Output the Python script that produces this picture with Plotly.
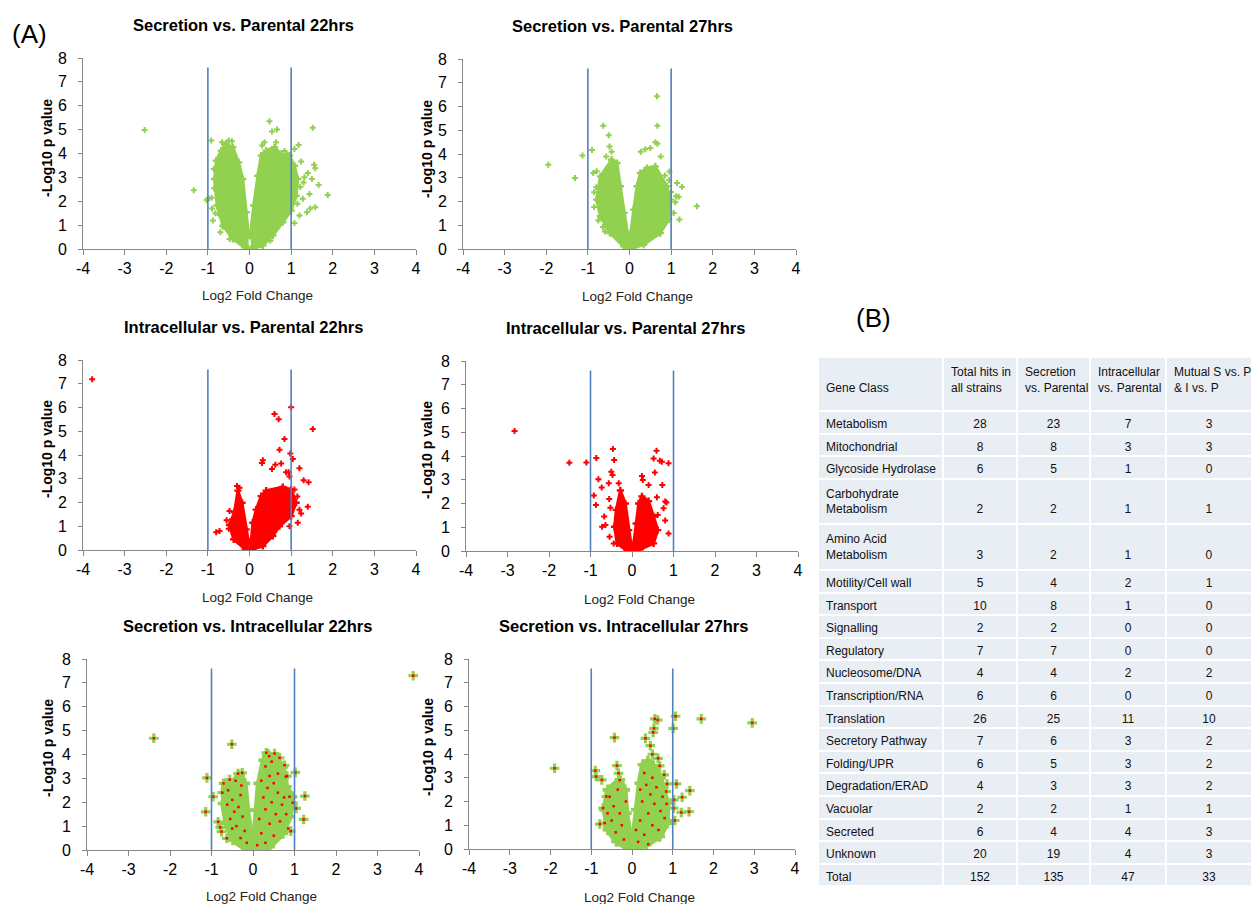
import plotly.graph_objects as go

W, H = 1252, 904
GREEN = "#92D050"
RED = "#FF0000"
BLUE = "#4F81BD"
AXIS = "#868686"
FONT = "Liberation Sans, Arial, Helvetica, sans-serif"

# ---------------- data ----------------
x_ticks = [-4, -3, -2, -1, 0, 1, 2, 3, 4]
x_tick_labels = ["-4", "-3", "-2", "-1", "0", "1", "2", "3", "4"]
y_ticks = [0, 1, 2, 3, 4, 5, 6, 7, 8]
threshold_x = [-1, 1]
threshold_top = 7.6

panel_titles = ["Secretion vs. Parental 22hrs", "Secretion vs. Parental 27hrs",
                "Intracellular vs. Parental 22hrs", "Intracellular vs. Parental 27hrs",
                "Secretion vs. Intracellular 22hrs", "Secretion vs. Intracellular 27hrs"]

# Panel 1: Secretion vs. Parental 22hrs
sp22_left_x = [-0.02, -0.12, -0.4, -0.64, -0.78, -0.84, -0.8, -0.68, -0.56, -0.4, -0.26, -0.16, -0.08, -0.02]
sp22_left_y = [0.0, 0.07, 0.42, 0.98, 1.82, 2.93, 3.7, 4.12, 4.4, 4.26, 3.63, 2.93, 1.54, 0.56]
sp22_right_x = [0.02, 0.1, 0.2, 0.28, 0.4, 0.6, 0.76, 0.96, 1.08, 1.16, 1.12, 1.0, 0.8, 0.56, 0.32, 0.04]
sp22_right_y = [0.56, 1.82, 3.07, 3.91, 4.12, 4.26, 3.98, 3.91, 3.49, 2.93, 2.23, 1.61, 1.12, 0.56, 0.14, 0.0]
sp22_pts_x = [-2.52, -1.34, -1.03, -0.92, -0.66, -0.5, -0.42, 0.48, 0.54, 0.66, 1.52, 1.88, 1.66, 1.55, 1.58,
              1.4, 1.5, 1.3, 1.44, 1.58, 1.46, 1.38, 1.2, 1.08, 1.24, 1.08, 1.18, 0.96, 0.36, 0.3, 0.64, 0.5,
              -0.88, -0.98, -0.91, -0.85, -0.78, -0.86, -0.74, -0.64, -0.48, -0.4, -0.72,
              1.22, 1.28, 1.15, 1.32, 0.9, 0.84, -0.6, -0.7, -0.82, -0.9]
sp22_pts_y = [4.98, 2.46, 2.05, 4.54, 4.47, 4.54, 4.51, 5.35, 4.92, 5.0, 5.08, 2.26, 2.68, 3.53, 3.38,
              3.18, 2.93, 2.79, 2.3, 1.75, 1.7, 1.54, 1.4, 1.09, 3.66, 4.19, 4.36, 3.94, 4.47, 4.33, 4.47, 0.35,
              1.19, 2.12, 2.15, 2.54, 3.04, 3.35, 3.72, 0.94, 0.42, 0.56, 1.42,
              2.6, 2.1, 1.9, 3.0, 3.95, 4.1, 4.35, 0.7, 1.5, 1.7]

# Panel 2: Secretion vs. Parental 27hrs
sp27_left_x = [0.0, -0.14, -0.47, -0.7, -0.79, -0.7, -0.43, -0.3, -0.22, -0.13, -0.05, 0.0]
sp27_left_y = [0.0, 0.11, 0.67, 1.38, 2.08, 3.06, 3.76, 3.62, 2.64, 1.52, 0.67, 0.2]
sp27_right_x = [0.01, 0.03, 0.1, 0.18, 0.26, 0.42, 0.62, 0.9, 0.98, 0.94, 0.74, 0.34, 0.02]
sp27_right_y = [0.2, 0.67, 1.66, 2.64, 3.2, 3.41, 3.48, 2.64, 2.08, 1.24, 0.67, 0.18, 0.0]
sp27_pts_x = [-1.95, -1.31, -1.13, -0.9, -0.63, -0.5, -0.48, -0.43, -0.56, 0.66, 0.67, 0.62, 0.67, 0.5, 0.38,
              0.27, 0.75, 0.96, 1.14, 1.26, 1.12, 1.62, 1.2, 1.06, 1.1, 1.18, -0.87, -0.79, -0.64, -0.59,
              -0.85, -0.85, 0.67, -0.8, -0.75, 0.95, 1.0, 0.85]
sp27_pts_y = [3.55, 2.99, 3.94, 4.17, 5.19, 4.79, 4.32, 4.1, 3.9, 6.43, 5.19, 4.49, 4.43, 4.25, 4.2,
              4.1, 3.9, 3.26, 2.78, 2.61, 2.22, 1.8, 1.24, 1.52, 1.97, 2.2, 3.2, 3.27, 0.93, 0.74,
              2.39, 1.77, 0.67, 2.6, 1.2, 2.9, 2.4, 3.1]

# Panel 3: Intracellular vs. Parental 22hrs
ip22_left_x = [-0.02, -0.1, -0.38, -0.48, -0.36, -0.28, -0.18, -0.08, -0.02]
ip22_left_y = [0.0, 0.03, 0.45, 1.05, 1.6, 2.5, 1.99, 0.87, 0.31]
ip22_right_x = [0.02, 0.04, 0.08, 0.16, 0.28, 0.4, 0.8, 1.0, 1.12, 1.0, 0.72, 0.56, 0.32, 0.04]
ip22_right_y = [0.0, 0.45, 1.15, 1.7, 2.27, 2.5, 2.65, 2.55, 1.99, 1.43, 1.0, 0.59, 0.17, 0.0]
ip22_pts_x = [-3.78, 1.0, 0.6, 0.7, 1.52, 0.84, 0.72, 0.98, 1.04, 0.32, 0.3, 1.2, 1.3, 1.42, 1.4, 1.24,
              1.16, 0.96, 0.54, 0.62, 0.76, 0.88, 0.94, -0.3, -0.24, -0.48, -0.8, -0.72, 0.96,
              -0.55, -0.5, -0.42, 1.15, 1.2, 1.08]
ip22_pts_y = [7.19, 6.01, 5.73, 5.51, 5.09, 4.67, 4.22, 4.06, 3.83, 3.78, 3.66, 3.44, 2.94, 2.85, 1.82, 1.54,
              1.15, 1.0, 3.41, 3.59, 3.64, 3.27, 3.27, 2.69, 2.62, 1.64, 0.75, 0.8, 3.1,
              1.25, 0.9, 1.3, 2.25, 1.7, 2.55]

# Panel 4: Intracellular vs. Parental 27hrs
ip27_left_x = [-0.02, -0.12, -0.36, -0.42, -0.38, -0.28, -0.16, -0.08, -0.02]
ip27_left_y = [0.0, 0.01, 0.32, 1.02, 1.73, 2.55, 2.0, 0.88, 0.25]
ip27_right_x = [0.02, 0.04, 0.1, 0.16, 0.24, 0.4, 0.52, 0.62, 0.52, 0.2, 0.02]
ip27_right_y = [0.0, 0.32, 1.16, 2.0, 2.3, 2.1, 1.45, 0.88, 0.32, 0.07, 0.0]
ip27_pts_x = [-2.83, -1.51, -1.1, -0.86, -0.46, -0.43, -0.81, -0.73, -0.92, -0.87, -0.5, -0.47, -0.56,
              -0.55, -0.52, -0.67, -0.72, -0.64, -0.54, -0.44, -0.32, 0.59, 0.52, 0.88, 0.72, 0.67, 0.55,
              0.24, 0.26, 0.4, 0.73, 0.6, 0.8, 0.83, 0.76, 0.62, 0.8, 0.88, 0.52]
ip27_pts_y = [5.05, 3.72, 3.73, 3.92, 4.29, 3.83, 3.02, 2.67, 2.34, 1.94, 3.34, 3.2, 2.85,
              2.19, 1.82, 1.45, 1.02, 1.09, 0.6, 0.32, 2.85, 4.22, 3.9, 3.69, 3.76, 3.8, 3.31,
              3.16, 2.99, 2.78, 2.78, 2.26, 2.08, 2.04, 1.8, 1.52, 1.28, 0.74, 1.16]

# Panel 5: Secretion vs. Intracellular 22hrs
si22_left_x = [-0.02, -0.16, -0.48, -0.64, -0.72, -0.64, -0.32, -0.2, -0.14, -0.06, -0.02]
si22_left_y = [0.0, 0.03, 0.42, 1.11, 1.95, 2.65, 3.1, 2.79, 1.67, 0.56, 0.2]
si22_right_x = [0.02, 0.04, 0.08, 0.14, 0.26, 0.36, 0.56, 0.72, 0.8, 0.94, 0.88, 0.72, 0.4, 0.04]
si22_right_y = [0.2, 0.56, 1.67, 2.79, 3.76, 4.0, 3.85, 3.48, 2.65, 2.23, 1.39, 0.7, 0.14, 0.0]
si22_pts_x = [3.86, -2.39, -0.51, -1.11, -0.96, -1.14, -0.84, -0.79, -0.63, -0.76, 1.02, 1.25, 1.04, 1.22,
              0.91, 0.32, 0.52, 0.64, 0.76, 0.39, 0.79, 0.82, 0.88, 0.96, -0.36, -0.26, -0.56, -0.71, -0.74]
si22_pts_y = [7.3, 4.68, 4.43, 3.02, 2.23, 1.6, 1.18, 0.95, 0.49, 0.77, 3.25, 2.26, 1.74, 1.28,
              0.79, 4.07, 4.04, 3.86, 3.55, 3.93, 3.07, 3.1, 2.23, 1.98, 3.2, 3.23, 2.95, 2.79, 2.4]
si22_red_x = [-0.6, -0.5, -0.45, -0.55, -0.4, -0.3, -0.35, -0.25, -0.2, -0.5, -0.3, -0.15, -0.62, -0.28,
              -0.42, 0.3, 0.4, 0.35, 0.5, 0.6, 0.45, 0.7, 0.55, 0.3, 0.25, 0.65, 0.4, 0.2, 0.5, 0.8, 0.75,
              0.15, 0.3, 0.1, 0.85, 0.6, 0.45, 0.2]
si22_red_y = [2.5, 2.1, 1.6, 1.3, 1.0, 2.3, 1.8, 1.4, 0.8, 0.9, 0.5, 0.3, 1.9, 2.7,
              2.9, 3.5, 3.1, 2.6, 2.8, 2.4, 2.0, 1.9, 1.5, 1.7, 2.2, 1.2, 1.1, 0.7, 0.6, 1.5, 2.2,
              1.3, 0.3, 0.2, 0.9, 3.2, 3.7, 2.9]

# Panel 6: Secretion vs. Intracellular 27hrs
si27_left_x = [-0.02, -0.1, -0.38, -0.59, -0.67, -0.59, -0.3, -0.18, -0.14, -0.06, -0.02]
si27_left_y = [0.0, 0.04, 0.32, 0.81, 1.65, 2.49, 2.91, 2.49, 1.51, 0.53, 0.2]
si27_right_x = [0.02, 0.05, 0.11, 0.19, 0.27, 0.39, 0.52, 0.68, 0.86, 0.86, 0.68, 0.35, 0.04]
si27_right_y = [0.2, 0.67, 1.65, 2.77, 3.55, 3.7, 3.5, 3.05, 1.93, 1.09, 0.53, 0.18, 0.0]
si27_pts_x = [-1.9, -0.43, -0.9, -0.88, -0.74, -0.37, -0.33, -0.79, -0.67, -0.71, -0.63, 0.56, 0.63, 0.54,
              0.52, 1.07, 1.01, 1.7, 2.95, 0.33, 0.45, 0.5, 0.64, 0.68, 0.79, 1.09, 0.86, 1.42, 1.23, 1.03,
              1.21, 1.4, 1.05, 0.84, 1.02]
si27_pts_y = [3.4, 4.69, 3.3, 3.05, 2.91, 3.51, 3.19, 1.05, 1.09, 1.72, 2.21, 5.48, 5.43, 5.08,
              4.91, 5.59, 5.08, 5.48, 5.31, 4.66, 4.35, 3.99, 3.82, 3.5, 3.12, 2.74, 2.74, 2.46, 2.18, 2.07,
              1.54, 1.57, 1.2, 2.42, 1.72]
si27_red_x = [-0.55, -0.45, -0.5, -0.35, -0.3, -0.25, -0.4, -0.2, -0.6, -0.15, -0.3, 0.3, 0.35, 0.45,
              0.25, 0.55, 0.6, 0.4, 0.7, 0.2, 0.5, 0.65, 0.3, 0.15, 0.8, 0.75, 0.2, 0.5, 0.1, 0.4, 0.85]
si27_red_y = [2.2, 1.8, 1.2, 2.5, 1.5, 1.0, 0.7, 0.4, 1.5, 2.0, 2.9, 3.2, 2.7, 2.3,
              2.0, 1.9, 2.6, 1.5, 1.6, 1.2, 1.0, 0.8, 0.6, 0.3, 1.3, 2.2, 2.5, 3.0, 0.8, 0.2, 1.9]

# Table (B)
table_header = ["Gene Class", "Total hits in<br>all strains", "Secretion<br>vs. Parental",
                "Intracellular<br>vs. Parental", "Mutual S vs. P<br>& I vs. P"]
gene_class = ["Metabolism", "Mitochondrial", "Glycoside Hydrolase", "Carbohydrate<br>Metabolism",
              "Amino Acid<br>Metabolism", "Motility/Cell wall", "Transport", "Signalling", "Regulatory",
              "Nucleosome/DNA", "Transcription/RNA", "Translation", "Secretory Pathway", "Folding/UPR",
              "Degradation/ERAD", "Vacuolar", "Secreted", "Unknown", "Total"]
total_hits = [28, 8, 6, 2, 3, 5, 10, 2, 7, 4, 6, 26, 7, 6, 4, 2, 6, 20, 152]
secretion_vs_parental = [23, 8, 5, 2, 2, 4, 8, 2, 7, 4, 6, 25, 6, 5, 3, 2, 4, 19, 135]
intracellular_vs_parental = [7, 3, 1, 1, 1, 2, 1, 0, 0, 2, 0, 11, 3, 3, 3, 1, 4, 4, 47]
mutual = [3, 3, 0, 1, 0, 1, 0, 0, 0, 2, 0, 10, 2, 2, 2, 1, 3, 3, 33]

# ---------------- figure ----------------
boxes = [(83, 416, 58, 249), (463, 796, 59, 249),
         (83, 416, 360, 550), (466, 798, 361, 551),
         (87, 419, 659, 850), (469, 795, 659, 849)]
title_pos = [(243, 25), (622, 26), (243, 327), (625, 328), (247, 626), (623, 626)]
xtitle_pos = [(257, 295), (637, 296), (257, 597), (639, 599), (261, 896), (639, 897)]
ytitle_pos = [(47, 148), (427, 149), (47, 449), (427, 450), (48, 748), (428, 747)]

panels = [
    (sp22_left_x, sp22_left_y, sp22_right_x, sp22_right_y, sp22_pts_x, sp22_pts_y, None, None, GREEN),
    (sp27_left_x, sp27_left_y, sp27_right_x, sp27_right_y, sp27_pts_x, sp27_pts_y, None, None, GREEN),
    (ip22_left_x, ip22_left_y, ip22_right_x, ip22_right_y, ip22_pts_x, ip22_pts_y, None, None, RED),
    (ip27_left_x, ip27_left_y, ip27_right_x, ip27_right_y, ip27_pts_x, ip27_pts_y, None, None, RED),
    (si22_left_x, si22_left_y, si22_right_x, si22_right_y, si22_pts_x, si22_pts_y, si22_red_x, si22_red_y, GREEN),
    (si27_left_x, si27_left_y, si27_right_x, si27_right_y, si27_pts_x, si27_pts_y, si27_red_x, si27_red_y, GREEN),
]

fig = go.Figure()
annotations = []
layout = {}


def px_x(p):
    return p / W


def px_y(p):
    return 1 - p / H


for i, (lx, ly, rx, ry, ptx, pty, redx, redy, col) in enumerate(panels):
    n = i + 1
    xa = "x" if n == 1 else f"x{n}"
    ya = "y" if n == 1 else f"y{n}"
    big = redx is not None
    l, r, t, b = boxes[i]
    layout["xaxis" if n == 1 else f"xaxis{n}"] = dict(
        domain=[px_x(l), px_x(r)], anchor=ya, range=[-4, 4], tickvals=x_ticks, ticktext=x_tick_labels,
        ticks="outside", ticklen=5, tickcolor=AXIS, showline=True, linecolor=AXIS, linewidth=1,
        showgrid=False, zeroline=False, tickfont=dict(size=16, color="#000"), fixedrange=True,
        automargin=False)
    layout["yaxis" if n == 1 else f"yaxis{n}"] = dict(
        domain=[px_y(b), px_y(t)], anchor=xa, range=[0, 8], tickvals=y_ticks,
        ticks="outside", ticklen=4, tickcolor=AXIS, showline=True, linecolor=AXIS, linewidth=1,
        showgrid=False, zeroline=False, tickfont=dict(size=16, color="#000"), fixedrange=True,
        ticklabelstandoff=8, automargin=False)
    lw = 6 if big else 3
    msize = 8 if big else 5
    for px_, py_ in ((lx, ly), (rx, ry)):
        fig.add_trace(go.Scatter(x=px_, y=py_, xaxis=xa, yaxis=ya, mode="lines+markers", fill="toself",
                                 fillcolor=col, line=dict(color=col, width=lw),
                                 marker=dict(symbol="cross", size=msize + 1, color=col, line=dict(width=0)),
                                 showlegend=False, hoverinfo="skip"))
    fig.add_trace(go.Scatter(x=ptx, y=pty, xaxis=xa, yaxis=ya, mode="markers",
                             marker=dict(symbol="cross", size=msize, color=col, line=dict(width=0)),
                             showlegend=False, cliponaxis=False))
    if big:
        fig.add_trace(go.Scatter(x=redx + ptx, y=redy + pty, xaxis=xa, yaxis=ya, mode="markers",
                                 marker=dict(symbol="square", size=2.5, color=RED, line=dict(width=0)),
                                 showlegend=False, cliponaxis=False))
    for tx in threshold_x:
        fig.add_trace(go.Scatter(x=[tx, tx], y=[0, threshold_top], xaxis=xa, yaxis=ya, mode="lines",
                                 line=dict(color=BLUE, width=1.6), showlegend=False, hoverinfo="skip"))
    annotations.append(dict(text=f"<b>{panel_titles[i]}</b>", x=px_x(title_pos[i][0]),
                            y=px_y(title_pos[i][1]), xref="paper", yref="paper", showarrow=False,
                            xanchor="center", yanchor="middle", font=dict(size=16.5, color="#000")))
    annotations.append(dict(text="Log2 Fold Change", x=px_x(xtitle_pos[i][0]), y=px_y(xtitle_pos[i][1]),
                            xref="paper", yref="paper", showarrow=False, xanchor="center",
                            yanchor="middle", font=dict(size=13.5, color="#222")))
    annotations.append(dict(text="<b>-Log10 p value</b>", x=px_x(ytitle_pos[i][0]),
                            y=px_y(ytitle_pos[i][1]), xref="paper", yref="paper", showarrow=False,
                            xanchor="center", yanchor="middle", textangle=-90,
                            font=dict(size=14, color="#000")))

annotations.append(dict(text="(A)", x=px_x(29), y=px_y(34), xref="paper", yref="paper",
                        showarrow=False, xanchor="center", yanchor="middle",
                        font=dict(size=26, color="#000")))
annotations.append(dict(text="(B)", x=px_x(873), y=px_y(318), xref="paper", yref="paper",
                        showarrow=False, xanchor="center", yanchor="middle",
                        font=dict(size=26, color="#000")))

# table
NBSP = "\u00a0"


def cell_text(v):
    return str(v).replace(" ", NBSP)


def value_text(v, k):
    # values sit on the last text line of two-line rows
    s = str(v)
    if "<br>" in gene_class[k]:
        return NBSP + "<br>" + s
    return s


col_gene = [cell_text(g) for g in gene_class]
col_vals = [[value_text(v, k) for k, v in enumerate(arr)]
            for arr in (total_hits, secretion_vs_parental, intracellular_vs_parental, mutual)]
hdr = [NBSP + "<br>" + table_header[0].replace(" ", NBSP)] + \
      [h.replace(" ", NBSP) for h in table_header[1:]]

fig.add_trace(go.Table(
    domain=dict(x=[px_x(818), 1.0], y=[0.0, px_y(357)]),
    columnwidth=[125, 74, 73, 76, 86],
    header=dict(values=hdr, align="left", fill_color="#E9EDF4",
                line=dict(color="white", width=2), height=54,
                font=dict(family=FONT, size=12, color="#111")),
    cells=dict(values=[col_gene] + col_vals,
               align=["left", "center", "center", "center", "center"],
               fill_color="#E9EDF4", line=dict(color="white", width=2), height=22.6,
               font=dict(family=FONT, size=12, color="#111")),
))

fig.update_layout(width=W, height=H, margin=dict(l=0, r=0, t=0, b=0, pad=0, autoexpand=False),
                  paper_bgcolor="white", plot_bgcolor="white",
                  font=dict(family=FONT, color="#000"),
                  annotations=annotations, **layout)

fig.write_html("out.html", config={"displayModeBar": False},
               post_script="document.body.style.margin='0';document.body.style.overflow='hidden';")
